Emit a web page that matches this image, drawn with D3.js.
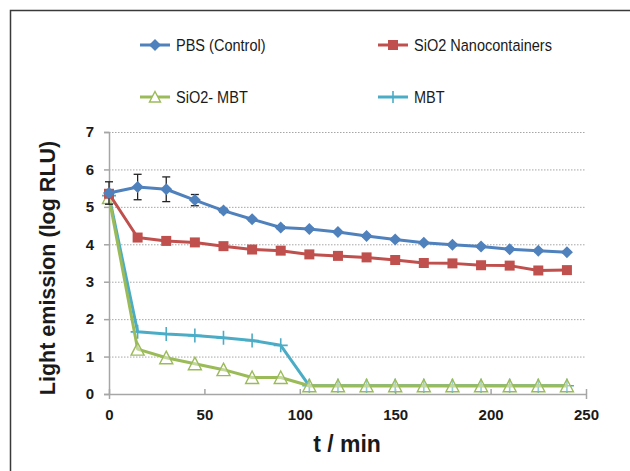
<!DOCTYPE html>
<html>
<head>
<meta charset="utf-8">
<script src="https://cdn.jsdelivr.net/npm/d3@7"></script>
<style>
  body { margin: 0; background: #fff; }
  svg { display: block; }
</style>
</head>
<body>
<div class="svgcontainer"></div>
<script>
// time points (min)
const times = [0, 15, 30, 45, 60, 75, 90, 105, 120, 135, 150, 165, 180, 195, 210, 225, 240];

const pbs = [5.37, 5.53, 5.47, 5.18, 4.9, 4.67, 4.45, 4.41, 4.33, 4.22, 4.13, 4.04, 3.99, 3.94, 3.87, 3.83, 3.79];
const pbsErr = [0.3, 0.34, 0.33, 0.15, 0.05, 0.04, 0.04, 0.03, 0.03, 0.03, 0.03, 0.03, 0.03, 0.03, 0.03, 0.03, 0.03];
const nano = [5.35, 4.18, 4.09, 4.05, 3.95, 3.86, 3.83, 3.73, 3.69, 3.65, 3.58, 3.5, 3.49, 3.44, 3.43, 3.3, 3.31];
const nanoErr = [0.05, 0.04, 0.04, 0.04, 0.04, 0.04, 0.04, 0.04, 0.04, 0.04, 0.04, 0.08, 0.04, 0.04, 0.04, 0.09, 0.04];
const sio2Mbt = [5.25, 1.2, 0.97, 0.81, 0.65, 0.44, 0.44, 0.22, 0.22, 0.22, 0.22, 0.22, 0.22, 0.22, 0.22, 0.22, 0.22];
const mbt = [5.3, 1.66, 1.6, 1.56, 1.5, 1.43, 1.3, 0.22, 0.22, 0.22, 0.22, 0.22, 0.22, 0.22, 0.22, 0.22, 0.22];

const xTicks = [0, 50, 100, 150, 200, 250];
const yTicks = [0, 1, 2, 3, 4, 5, 6, 7];

const series = [
  { name: "PBS (Control)", values: pbs, err: pbsErr, color: "#4F81BD", marker: "diamond" },
  { name: "SiO2 Nanocontainers", values: nano, err: nanoErr, color: "#C0504D", marker: "square" },
  { name: "SiO2- MBT", values: sio2Mbt, err: null, color: "#9BBB59", marker: "triangle" },
  { name: "MBT", values: mbt, err: null, color: "#4BACC6", marker: "plus" }
];

const W = 630, H = 471;
const margin = { top: 132, right: 44, bottom: 77, left: 109 };
const width = W - margin.left - margin.right;
const height = H - margin.top - margin.bottom;

const svg = d3.select('.svgcontainer')
  .append('svg')
  .attr('width', W)
  .attr('height', H);

// outer frame (only top and left edges visible)
svg.append('path')
  .attr('d', `M10.5,${H} V10.5 H${W}`)
  .attr('fill', 'none')
  .attr('stroke', '#3a3a3a')
  .attr('stroke-width', 1.5);

const g = svg.append('g')
  .attr('transform', `translate(${margin.left}, ${margin.top})`);

const x = d3.scaleLinear().domain([0, 250]).range([0, width]);
const y = d3.scaleLinear().domain([0, 7]).range([height, 0]);

// gridlines
g.selectAll('.grid')
  .data(yTicks.filter(d => d > 0))
  .enter()
  .append('line')
  .attr('x1', 0)
  .attr('x2', width)
  .attr('y1', d => y(d) + 0.5)
  .attr('y2', d => y(d) + 0.5)
  .attr('stroke', '#a6a6a6')
  .attr('stroke-dasharray', '1.5,1.5')
  .attr('stroke-width', 1);

// axes
const xAxis = g.append('g')
  .attr('transform', `translate(0, ${height})`)
  .call(d3.axisBottom(x).tickValues(xTicks).tickFormat(d3.format('d')).tickSize(5).tickPadding(10));
const yAxis = g.append('g')
  .call(d3.axisLeft(y).tickValues(yTicks).tickFormat(d3.format('d')).tickSize(5).tickPadding(10));

[xAxis, yAxis].forEach(a => {
  a.select('.domain').attr('stroke', '#a6a6a6').attr('stroke-width', 1.5);
  a.selectAll('.tick line').attr('stroke', '#a6a6a6').attr('stroke-width', 1.5);
  a.selectAll('.tick text')
    .attr('fill', '#1a1a1a')
    .style('font-family', 'Liberation Sans, Arial, sans-serif')
    .style('font-size', '15px')
    .style('font-weight', 'bold');
});
xAxis.selectAll('.tick line').attr('y1', 0).attr('y2', -5);

// axis titles
svg.append('text')
  .attr('x', 347)
  .attr('y', 452)
  .attr('text-anchor', 'middle')
  .style('font-family', 'Liberation Sans, Arial, sans-serif')
  .style('font-size', '23px')
  .style('font-weight', 'bold')
  .attr('fill', '#1a1a1a')
  .text('t / min');

svg.append('text')
  .attr('transform', 'translate(55, 268) rotate(-90)')
  .attr('text-anchor', 'middle')
  .style('font-family', 'Liberation Sans, Arial, sans-serif')
  .style('font-size', '21.5px')
  .style('font-weight', 'bold')
  .attr('fill', '#1a1a1a')
  .text('Light emission (log RLU)');

function drawMarker(sel, type, color) {
  if (type === 'diamond') {
    sel.append('path').attr('d', 'M0,-6 L6,0 L0,6 L-6,0 Z').attr('fill', color);
  } else if (type === 'square') {
    sel.append('rect').attr('x', -5).attr('y', -5).attr('width', 10).attr('height', 10).attr('fill', color);
  } else if (type === 'triangle') {
    sel.append('path').attr('d', 'M0,-6.5 L6.5,6 L-6.5,6 Z')
      .attr('fill', '#fff').attr('fill-opacity', 0.4).attr('stroke', color).attr('stroke-width', 1.4);
  } else if (type === 'plus') {
    sel.append('path').attr('d', 'M-7,0 H7 M0,-7 V7').attr('stroke', color).attr('stroke-width', 1.6);
  }
}

const line = d3.line().x((d, i) => x(times[i])).y(d => y(d));

// draw series in reverse so PBS is on top
series.slice().reverse().forEach(s => {
  g.append('path')
    .datum(s.values)
    .attr('fill', 'none')
    .attr('stroke', s.color)
    .attr('stroke-width', 3)
    .attr('stroke-linejoin', 'round')
    .attr('d', line);

  if (s.err) {
    const eb = g.selectAll(null)
      .data(s.values.map((v, i) => ({ v, e: s.err[i], t: times[i] })))
      .enter()
      .append('g')
      .attr('stroke', '#222')
      .attr('stroke-width', 1.3);
    eb.append('line')
      .attr('x1', d => x(d.t)).attr('x2', d => x(d.t))
      .attr('y1', d => y(d.v + d.e)).attr('y2', d => y(d.v - d.e));
    eb.append('line')
      .attr('x1', d => x(d.t) - 4).attr('x2', d => x(d.t) + 4)
      .attr('y1', d => y(d.v + d.e)).attr('y2', d => y(d.v + d.e));
    eb.append('line')
      .attr('x1', d => x(d.t) - 4).attr('x2', d => x(d.t) + 4)
      .attr('y1', d => y(d.v - d.e)).attr('y2', d => y(d.v - d.e));
  }

  const m = g.selectAll(null)
    .data(s.values)
    .enter()
    .append('g')
    .attr('transform', (d, i) => `translate(${x(times[i])}, ${y(d)})`);
  drawMarker(m, s.marker, s.color);
});

// legend
const legendPos = [[140, 45], [378, 45], [140, 97], [378, 97]];
series.forEach((s, i) => {
  const [lx, ly] = legendPos[i];
  const lg = svg.append('g').attr('transform', `translate(${lx}, ${ly})`);
  lg.append('line').attr('x1', 0).attr('x2', 30).attr('y1', 0).attr('y2', 0)
    .attr('stroke', s.color).attr('stroke-width', 3);
  const mk = lg.append('g').attr('transform', 'translate(15, 0)');
  if (s.marker === 'triangle') {
    mk.append('path').attr('d', 'M0,-5.5 L5.5,5 L-5.5,5 Z')
      .attr('fill', '#fff').attr('stroke', s.color).attr('stroke-width', 1.4);
  } else if (s.marker === 'plus') {
    mk.append('path').attr('d', 'M0,-6 V6').attr('stroke', s.color).attr('stroke-width', 1.6);
  } else {
    drawMarker(mk, s.marker, s.color);
  }
  // condensed look of the original legend font
  lg.append('text')
    .attr('transform', 'translate(36, 6) scale(0.88, 1)')
    .style('font-family', '"Liberation Sans", Arial, sans-serif')
    .style('font-size', '16.5px')
    .attr('fill', '#1a1a1a')
    .text(s.name);
});
</script>
</body>
</html>
